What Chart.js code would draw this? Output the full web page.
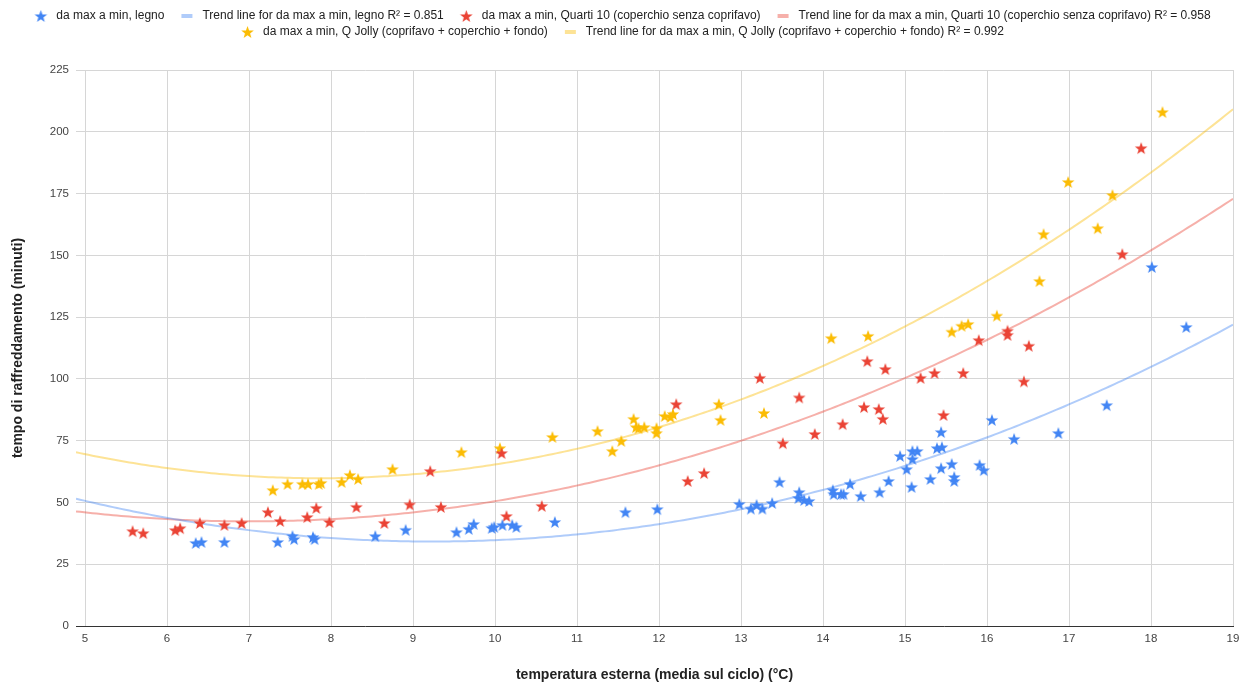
<!DOCTYPE html>
<html>
<head>
<meta charset="utf-8">
<script src="https://cdn.jsdelivr.net/npm/chart.js@4.4.1/dist/chart.umd.min.js"></script>
<style>
  html, body { margin: 0; padding: 0; background: #fff; }
  #wrap { width: 1249px; height: 690px; }
</style>
</head>
<body>
<div id="wrap"><canvas id="chart" width="1249" height="690"></canvas></div>
<script>
// values: [temperatura esterna, tempo di raffreddamento]
const legnoX = [6.35, 6.42, 6.70, 7.35, 7.53, 7.55, 7.78, 7.80, 8.54, 8.91, 9.53, 9.68, 9.74, 9.96, 9.99,
  10.09, 10.21, 10.26, 10.73, 11.59, 11.98, 12.98, 13.12, 13.19, 13.26, 13.38, 13.47, 13.70, 13.71, 13.77,
  13.83, 14.12, 14.13, 14.22, 14.25, 14.33, 14.46, 14.69, 14.80, 14.94, 15.02, 15.08, 15.09, 15.09, 15.15,
  15.31, 15.39, 15.45, 15.44, 15.44, 15.57, 15.60, 15.60, 15.91, 15.96, 16.06, 16.33, 16.87, 17.46, 18.01, 18.43];
const legnoY = [33.6, 34.0, 34.0, 34.0, 36.4, 35.2, 36.0, 35.2, 36.4, 38.9, 38.0, 39.3, 41.3, 39.7, 40.1,
  40.9, 40.9, 40.1, 42.1, 46.1, 47.3, 49.4, 47.5, 49.0, 47.5, 49.8, 58.3, 51.8, 54.2, 51.0,
  50.6, 55.0, 53.4, 53.4, 53.4, 57.5, 52.6, 54.2, 58.7, 68.8, 63.5, 56.3, 67.6, 70.8, 70.8,
  59.5, 72.0, 72.4, 78.5, 63.9, 65.6, 60.3, 58.7, 65.2, 63.1, 83.4, 75.7, 78.1, 89.4, 145.3, 121.0];

const quartiX = [5.58, 5.71, 6.10, 6.16, 6.40, 6.70, 6.91, 7.23, 7.38, 7.71, 7.82, 7.98, 8.31, 8.65, 8.96,
  9.21, 9.34, 10.08, 10.14, 10.57, 12.21, 12.35, 12.55, 13.23, 13.51, 13.71, 13.90, 14.24, 14.50, 14.54,
  14.68, 14.73, 14.76, 15.19, 15.36, 15.47, 15.71, 15.90, 16.25, 16.25, 16.45, 16.51, 17.65, 17.88];
const quartiY = [38.4, 37.6, 38.8, 39.6, 41.7, 40.9, 41.7, 46.1, 42.5, 44.1, 47.8, 42.1, 48.2, 41.7, 49.2,
  62.7, 48.2, 70.0, 44.5, 48.6, 89.8, 58.7, 61.9, 100.4, 74.0, 92.5, 77.7, 81.7, 88.6, 107.2,
  87.8, 83.8, 104.0, 100.4, 102.4, 85.4, 102.4, 115.7, 119.5, 117.8, 99.0, 113.4, 150.5, 193.4];

const jollyX = [7.29, 7.47, 7.65, 7.72, 7.85, 7.88, 8.13, 8.23, 8.33, 8.75, 9.59, 10.06, 10.70, 11.25, 11.43,
  11.54, 11.69, 11.72, 11.75, 11.82, 11.97, 11.97, 12.07, 12.14, 12.17, 12.73, 12.75, 13.28, 14.10, 14.55,
  15.57, 15.69, 15.77, 16.12, 16.64, 16.69, 16.99, 17.35, 17.53, 18.14];
const jollyY = [55.0, 57.5, 57.5, 57.5, 57.5, 57.9, 58.3, 61.1, 59.5, 63.5, 70.4, 72.0, 76.5, 78.9, 70.8,
  74.9, 83.8, 80.5, 80.1, 80.5, 80.1, 78.1, 85.0, 84.6, 85.8, 89.8, 83.4, 86.2, 116.5, 117.4,
  119.1, 121.5, 122.2, 125.6, 139.6, 158.6, 179.7, 161.0, 174.4, 208.0];

const seriesNames = [
  'da max a min, legno',
  'da max a min, Quarti 10 (coperchio senza coprifavo)',
  'da max a min, Q Jolly (coprifavo + coperchio + fondo)'
];
const r2Labels = ['0.851', '0.958', '0.992'];
const xTicks = [5, 6, 7, 8, 9, 10, 11, 12, 13, 14, 15, 16, 17, 18, 19];
const yTicks = [0, 25, 50, 75, 100, 125, 150, 175, 200, 225];

const colors = ['#4285f4', '#ea4335', '#fbbc04'];
const trendColors = ['rgba(66,133,244,0.42)', 'rgba(234,67,53,0.42)', 'rgba(251,188,4,0.42)'];

// filled five-point star; w > 14 gives a wider canvas with the star near its right side (legend)
function makeStar(color, w, cx) {
  const c = document.createElement('canvas');
  c.width = w; c.height = 14;
  const g = c.getContext('2d');
  g.fillStyle = color;
  g.beginPath();
  for (let i = 0; i < 10; i++) {
    const r = i % 2 ? 2.7 : 6.6;
    const a = -Math.PI / 2 + i * Math.PI / 5;
    g.lineTo(cx + r * Math.cos(a), 7.6 + r * Math.sin(a));
  }
  g.closePath();
  g.fill();
  return c;
}

function makeBar(color, w) {
  const c = document.createElement('canvas');
  c.width = w; c.height = 4;
  const g = c.getContext('2d');
  g.fillStyle = color;
  g.fillRect(13, 0, 11, 4);
  return c;
}

// least squares fit, degree 2 (the trend lines in the original)
function polyFit(xs, ys) {
  const s = [0, 0, 0, 0, 0], t = [0, 0, 0];
  xs.forEach((x, i) => {
    for (let k = 0; k < 5; k++) s[k] += Math.pow(x, k);
    for (let k = 0; k < 3; k++) t[k] += ys[i] * Math.pow(x, k);
  });
  const m = [[s[0], s[1], s[2], t[0]], [s[1], s[2], s[3], t[1]], [s[2], s[3], s[4], t[2]]];
  for (let i = 0; i < 3; i++) {
    for (let j = i + 1; j < 3; j++) {
      const f = m[j][i] / m[i][i];
      for (let k = i; k < 4; k++) m[j][k] -= f * m[i][k];
    }
  }
  const c = [0, 0, 0];
  for (let i = 2; i >= 0; i--) {
    let v = m[i][3];
    for (let k = i + 1; k < 3; k++) v -= m[i][k] * c[k];
    c[i] = v / m[i][i];
  }
  return c;
}

const xMin = 4.89, xMax = 19;

function trendPoints(xs, ys) {
  const c = polyFit(xs, ys);
  const pts = [];
  for (let i = 0; i <= 141; i++) {
    const x = xMin + (xMax - xMin) * i / 141;
    pts.push({ x: x, y: c[0] + c[1] * x + c[2] * x * x });
  }
  return pts;
}

const toPoints = (xs, ys) => xs.map((x, i) => ({ x: x, y: ys[i] }));
const allX = [legnoX, quartiX, jollyX];
const allY = [legnoY, quartiY, jollyY];

const LEGEND_BOX = 28;
const legendIcons = [];
const datasets = [];
for (let s = 0; s < 3; s++) {
  legendIcons.push(makeStar(colors[s], LEGEND_BOX, 18.5), makeBar(trendColors[s], LEGEND_BOX));
  datasets.push({
    type: 'scatter',
    label: seriesNames[s],
    data: toPoints(allX[s], allY[s]),
    pointStyle: makeStar(colors[s], 14, 7),
    backgroundColor: colors[s],
    borderColor: colors[s],
    order: 1
  });
  datasets.push({
    type: 'line',
    label: 'Trend line for ' + seriesNames[s] + ' R\u00b2 = ' + r2Labels[s],
    data: trendPoints(allX[s], allY[s]),
    borderColor: trendColors[s],
    backgroundColor: trendColors[s],
    borderWidth: 2,
    pointRadius: 0,
    tension: 0.3,
    order: 2
  });
}

// leave room under the two legend rows, as in the original
const legendSpace = {
  id: 'legendSpace',
  beforeLayout(chart) {
    const lg = chart.legend;
    if (lg && !lg._extra) {
      const fit = lg.fit;
      lg.fit = function () { fit.call(this); this.height += 22; };
      lg._extra = true;
    }
  }
};

const whiteBg = {
  id: 'whiteBg',
  beforeDraw(chart) {
    const ctx = chart.ctx;
    ctx.save();
    ctx.fillStyle = '#fff';
    ctx.fillRect(0, 0, chart.width, chart.height);
    ctx.restore();
  }
};

const fontFamily = 'Arial, "Liberation Sans", sans-serif';

new Chart(document.getElementById('chart'), {
  data: { datasets: datasets },
  plugins: [whiteBg, legendSpace],
  options: {
    responsive: false,
    animation: false,
    events: [],
    layout: { padding: { top: 6, right: 16, bottom: 0, left: 0 } },
    elements: { point: { radius: 6 } },
    plugins: {
      tooltip: { enabled: false },
      legend: {
        position: 'top',
        labels: {
          usePointStyle: true,
          pointStyleWidth: LEGEND_BOX,
          boxHeight: 12,
          padding: 4,
          color: '#222',
          font: { family: fontFamily, size: 12 },
          sort: (a, b) => a.datasetIndex - b.datasetIndex,
          generateLabels(chart) {
            const items = Chart.defaults.plugins.legend.labels.generateLabels(chart);
            items.forEach(it => { it.pointStyle = legendIcons[it.datasetIndex]; });
            return items;
          }
        }
      }
    },
    scales: {
      x: {
        type: 'linear',
        min: xMin,
        max: xMax,
        afterBuildTicks: scale => { scale.ticks = xTicks.map(v => ({ value: v })); },
        afterFit: scale => { scale.height = 64; },
        grid: { color: '#d6d6d6', drawTicks: false },
        border: { display: true, color: '#333', width: 1 },
        ticks: { padding: 6, color: '#444', font: { family: fontFamily, size: 11.5 } },
        title: {
          display: true,
          text: 'temperatura esterna (media sul ciclo) (\u00b0C)',
          color: '#222',
          font: { family: fontFamily, size: 14, weight: 'bold' },
          padding: { top: 0, bottom: 6 }
        }
      },
      y: {
        type: 'linear',
        min: 0,
        max: 225,
        afterBuildTicks: scale => { scale.ticks = yTicks.map(v => ({ value: v })); },
        afterFit: scale => { scale.width = 76; },
        grid: { color: '#d6d6d6', drawTicks: false },
        border: { display: false },
        ticks: { padding: 7, color: '#444', font: { family: fontFamily, size: 11.5 } },
        title: {
          display: true,
          text: 'tempo di raffreddamento (minuti)',
          color: '#222',
          font: { family: fontFamily, size: 14, weight: 'bold' },
          padding: { top: 10, bottom: 0 }
        }
      }
    }
  }
});
</script>
</body>
</html>
